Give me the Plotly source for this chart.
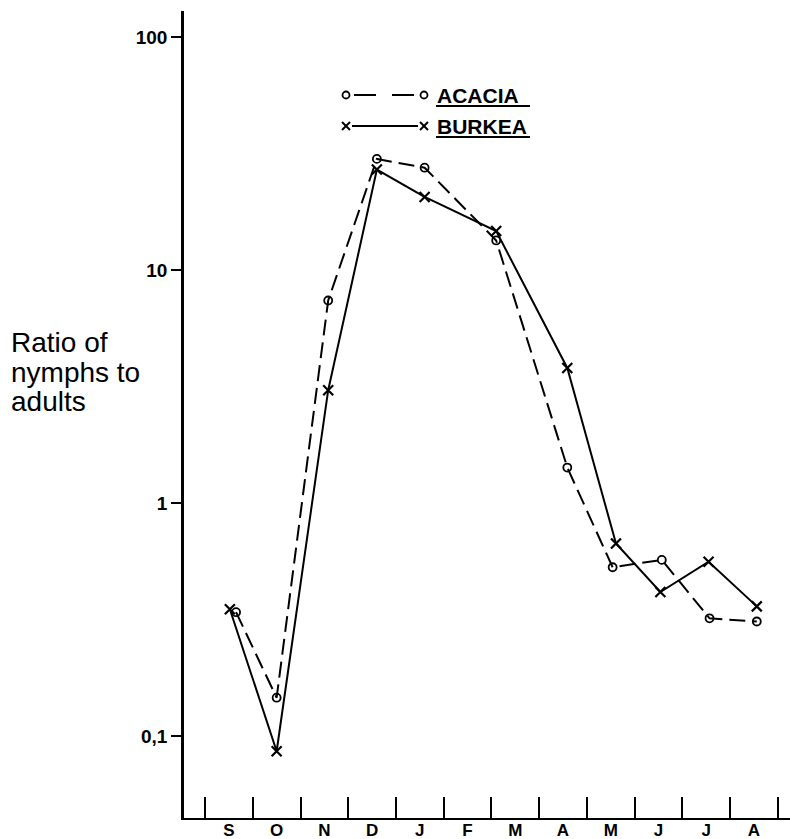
import plotly.graph_objects as go

# ---------------- data ----------------
month_labels = ["S", "O", "N", "D", "J", "F", "M", "A", "M", "J", "J", "A"]
month_index = list(range(len(month_labels)))
month_bounds = [i - 0.5 for i in range(len(month_labels) + 1)]

# sampling positions (in months from September) and ratios
acacia_x = [0.15, 1.0, 2.08, 3.1, 4.1, 5.6, 7.09, 8.04, 9.07, 10.07, 11.06]
acacia_y = [0.34, 0.146, 7.4, 30.0, 27.5, 13.4, 1.42, 0.53, 0.57, 0.32, 0.31]
burkea_x = [0.02, 1.0, 2.08, 3.1, 4.1, 5.6, 7.09, 8.11, 9.04, 10.05, 11.06]
burkea_y = [0.35, 0.086, 3.05, 27.0, 20.6, 14.7, 3.8, 0.67, 0.415, 0.56, 0.36]

ytick_vals = [0.1, 1, 10, 100]
ytick_text = ["0,1", "1", "10", "100"]
title_lines = ["Ratio of", "nymphs to", "adults"]

# ---------------- style ----------------
W, H = 790, 839
ML, MR, MT, MB = 184, 0, 11, 21
PW, PH = W - ML - MR, H - MT - MB
BOLD = "Liberation Sans, Arial, Helvetica, sans-serif"
SANS = "Liberation Sans, Arial, Helvetica, sans-serif"
XR = [-0.941, 11.756]
YR = [-1.352, 2.112]


def px(x):
    return (x - ML) / PW


def py(y):
    return (H - MB - y) / PH


fig = go.Figure()
fig.add_trace(go.Scatter(
    x=acacia_x, y=acacia_y, mode="lines+markers", name="ACACIA",
    line=dict(color="black", width=2, dash="16px,7px"),
    marker=dict(symbol="circle-open", size=8, color="black", line=dict(width=1.8, color="black")),
))
fig.add_trace(go.Scatter(
    x=burkea_x, y=burkea_y, mode="lines+markers", name="BURKEA",
    line=dict(color="black", width=2),
    marker=dict(symbol="x-thin-open", size=10, color="black", line=dict(width=2.2, color="black")),
))

fig.update_layout(
    width=W, height=H,
    margin=dict(l=ML, r=MR, t=MT, b=MB, autoexpand=False),
    paper_bgcolor="white", plot_bgcolor="white",
    showlegend=False,
    xaxis=dict(
        range=XR, showgrid=False, zeroline=False,
        showline=True, linecolor="black", linewidth=2,
        tickmode="array", tickvals=month_bounds, ticks="inside",
        ticklen=21, tickwidth=2, tickcolor="black",
        showticklabels=False,
    ),
    xaxis2=dict(
        range=XR, overlaying="x", anchor="y", side="bottom",
        showgrid=False, zeroline=False, showline=False,
        tickmode="array", tickvals=month_index, ticktext=month_labels,
        ticks="", ticklabelstandoff=0,
        tickfont=dict(family=BOLD, size=17, color="black", weight="bold"),
    ),
    yaxis=dict(
        type="log", range=YR, showgrid=False, zeroline=False,
        showline=True, linecolor="black", linewidth=2.5,
        tickmode="array", tickvals=ytick_vals, ticktext=ytick_text,
        ticks="outside", ticklen=10, tickwidth=2, tickcolor="black",
        tickfont=dict(family=BOLD, size=19, color="black", weight="bold"),
    ),
)
# dummy trace so xaxis2 is rendered
fig.add_trace(go.Scatter(x=[None], y=[None], xaxis="x2", yaxis="y", showlegend=False, hoverinfo="skip"))

# axis title, one annotation per line for tight line spacing
for line_text, ly in zip(title_lines, (343, 372, 401)):
    fig.add_annotation(
        text=line_text, xref="paper", yref="paper",
        x=px(9), y=py(ly), xanchor="left", yanchor="middle", align="left",
        showarrow=False, font=dict(family=SANS, size=28, color="black"),
    )

# custom legend
legend_rows = [("ACACIA", 95, 106, "circle"), ("BURKEA", 126, 137, "x")]
for label, ry, uy, sym in legend_rows:
    if sym == "circle":
        fig.add_shape(type="line", xref="paper", yref="paper",
                      x0=px(354), x1=px(417), y0=py(ry), y1=py(ry),
                      line=dict(color="black", width=2, dash="22px,16px"))
    else:
        fig.add_shape(type="line", xref="paper", yref="paper",
                      x0=px(352), x1=px(418), y0=py(ry), y1=py(ry),
                      line=dict(color="black", width=2))
    for mx in (346, 424):
        if sym == "circle":
            fig.add_shape(type="circle", xref="paper", yref="paper",
                          xsizemode="pixel", ysizemode="pixel",
                          xanchor=px(mx), yanchor=py(ry),
                          x0=-3.5, x1=3.5, y0=-3.5, y1=3.5,
                          line=dict(color="black", width=1.8))
        else:
            for a, b in ((-4, 4), (4, -4)):
                fig.add_shape(type="line", xref="paper", yref="paper",
                              xsizemode="pixel", ysizemode="pixel",
                              xanchor=px(mx), yanchor=py(ry),
                              x0=-4, x1=4, y0=a, y1=b,
                              line=dict(color="black", width=2))
    fig.add_annotation(text=label, xref="paper", yref="paper",
                       x=px(435), y=py(ry), xanchor="left", yanchor="middle",
                       showarrow=False,
                       font=dict(family=BOLD, size=21, color="black", weight="bold"))
    fig.add_shape(type="line", xref="paper", yref="paper",
                  x0=px(436), x1=px(530), y0=py(uy), y1=py(uy),
                  line=dict(color="black", width=2))

fig.write_html(
    "out.html",
    config={"displayModeBar": False},
    post_script="document.body.style.margin='0';document.body.style.padding='0';",
)
